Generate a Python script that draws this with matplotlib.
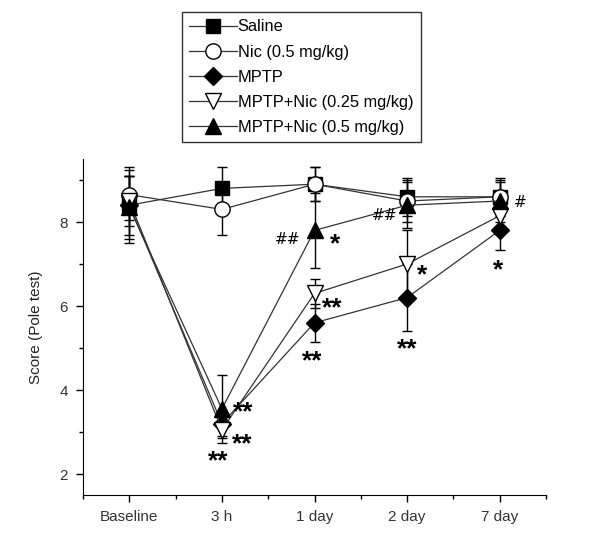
import matplotlib
matplotlib.use("Agg")
import matplotlib.pyplot as plt
from matplotlib.ticker import MultipleLocator

categories = ["Baseline", "3 h", "1 day", "2 day", "7 day"]
series_names = ["Saline", "Nic (0.5 mg/kg)", "MPTP", "MPTP+Nic (0.25 mg/kg)", "MPTP+Nic (0.5 mg/kg)"]

saline = [8.4, 8.8, 8.9, 8.6, 8.6]
saline_err = [0.9, 0.5, 0.4, 0.45, 0.45]
nic = [8.65, 8.3, 8.9, 8.5, 8.6]
nic_err = [0.6, 0.6, 0.4, 0.5, 0.35]
mptp = [8.4, 3.2, 5.6, 6.2, 7.8]
mptp_err = [0.7, 0.3, 0.45, 0.8, 0.47]
mptp_nic025 = [8.5, 3.05, 6.3, 7.0, 8.15]
mptp_nic025_err = [0.6, 0.2, 0.35, 0.8, 0.3]
mptp_nic05 = [8.35, 3.55, 7.8, 8.4, 8.5]
mptp_nic05_err = [0.75, 0.8, 0.9, 0.55, 0.5]

# significance marks: (x position, y value, text)
annot_x = [1.23, 1.22, 0.96, 1.71, 2.22, 2.19, 1.98, 2.76, 3.16, 3.0, 4.22, 3.98]
annot_y = [3.70, 2.93, 2.53, 7.58, 7.70, 6.16, 4.90, 8.16, 6.95, 5.20, 8.47, 7.07]
annot_txt = ["**", "**", "**", "##", "*", "**", "**", "##", "*", "**", "#", "*"]

fig = plt.figure(figsize=(6.0, 5.43), dpi=100)
ax = fig.add_axes([83/600, 1-495/543, (546-83)/600, (495-159)/543])

x = list(range(len(categories)))
styles = [
    dict(marker="s", mfc="black", mec="black", ms=10),
    dict(marker="o", mfc="white", mec="black", ms=11),
    dict(marker="D", mfc="black", mec="black", ms=9),
    dict(marker="v", mfc="white", mec="black", ms=11),
    dict(marker="^", mfc="black", mec="black", ms=12),
]
data = [(saline, saline_err), (nic, nic_err), (mptp, mptp_err),
        (mptp_nic025, mptp_nic025_err), (mptp_nic05, mptp_nic05_err)]

handles = []
for (vals, errs), st, name in zip(data, styles, series_names):
    eb = ax.errorbar(x, vals, yerr=errs, color="#333333", lw=0.9, elinewidth=1.0,
                     capsize=3.5, capthick=1.0, ecolor="black", label=name, **st)
    handles.append(eb)

for xa, ya, txt in zip(annot_x, annot_y, annot_txt):
    if "*" in txt:
        ax.text(xa, ya - 0.22, txt, ha="center", va="center", fontsize=19, fontweight="bold",
                family=["Liberation Sans", "DejaVu Sans"])
    else:
        ax.text(xa, ya, txt, ha="center", va="center", fontsize=11,
                family="DejaVu Sans")

ax.set_xlim(-0.5, 4.5)
ax.set_ylim(1.5, 9.5)
ax.set_xticks(x)
ax.set_xticklabels(categories)
ax.xaxis.set_minor_locator(MultipleLocator(0.5))
ax.set_yticks([2, 4, 6, 8])
ax.yaxis.set_minor_locator(MultipleLocator(1))
ax.tick_params(axis="both", which="major", length=5, width=1, labelsize=11, color="black", pad=6)
ax.tick_params(axis="both", which="minor", length=3, width=1)
for lbl in ax.get_xticklabels() + ax.get_yticklabels():
    lbl.set_family(["Liberation Sans", "DejaVu Sans"])
    lbl.set_color("#333333")
ax.spines["top"].set_visible(False)
ax.spines["right"].set_visible(False)
ax.set_ylabel("Score (Pole test)", fontsize=11, family=["Liberation Sans", "DejaVu Sans"], labelpad=12, color="#222222")

leg = fig.legend(handles=[h[0] for h in handles], labels=series_names, loc="upper left",
                 bbox_to_anchor=(182/600, 1-12/543), borderaxespad=0, frameon=True, fancybox=False,
                 edgecolor="black", handlelength=2.9, handletextpad=0.05,
                 labelspacing=0.62, borderpad=0.45,
                 prop={"family": ["Liberation Sans", "DejaVu Sans"], "size": 11.8})
leg.get_frame().set_linewidth(1.0)

fig.savefig("out.png", dpi=100)
